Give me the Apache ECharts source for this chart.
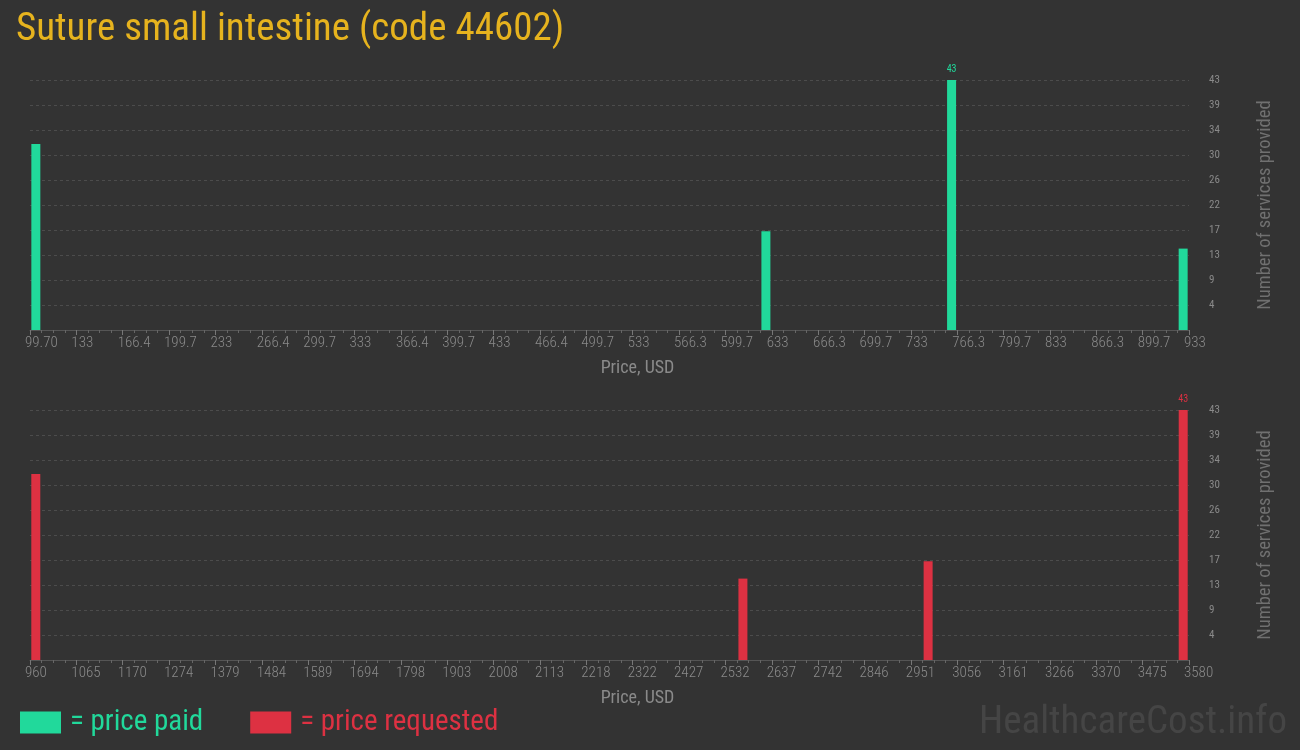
<!DOCTYPE html>
<html>
<head>
<meta charset="utf-8">
<style>html,body{margin:0;padding:0;background:#333333;}#chart{width:1300px;height:750px;}</style>
<script src="https://cdn.jsdelivr.net/npm/echarts@6/dist/echarts.min.js"></script>
</head>
<body>
<div id="chart"></div>
<script>
// ---- data ----
const titleText = "Suture small intestine (code 44602)";
const paidTickLabels = ["99.70","133","166.4","199.7","233","266.4","299.7","333","366.4","399.7","433","466.4","499.7","533","566.3","599.7","633","666.3","699.7","733","766.3","799.7","833","866.3","899.7","933"];
const requestedTickLabels = ["960","1065","1170","1274","1379","1484","1589","1694","1798","1903","2008","2113","2218","2322","2427","2532","2637","2742","2846","2951","3056","3161","3266","3370","3475","3580"];
const paidPrices = [103.9, 628.8, 762.3, 928.8];
const paidCounts = [32, 17, 43, 14];
const requestedPrices = [973.1, 2571.6, 2990.3, 3566.9];
const requestedCounts = [32, 14, 17, 43];
const countMax = 43;

// ---- styling ----
const GREEN = '#21d99b', RED = '#dd3142', BG = '#333333';
const FONT = '"Roboto Condensed", "Roboto", sans-serif';
const nIntervals = paidTickLabels.length - 1;

function axisFrom(labels) {
  const lo = parseFloat(labels[0]), hi = parseFloat(labels[labels.length - 1]);
  return { lo, step: (hi - lo) / (labels.length - 1) };
}
const paidAxis = axisFrom(paidTickLabels), reqAxis = axisFrom(requestedTickLabels);

function seriesData(prices, counts, ax, color) {
  const mx = Math.max.apply(null, counts);
  return prices.map((p, i) => {
    const item = { value: [(p - ax.lo) / ax.step, counts[i]] };
    if (counts[i] === mx) item.label = { show: true, position: 'top', color: color, fontSize: 10, fontFamily: FONT, distance: 6, formatter: String(counts[i]) };
    return item;
  });
}

function xAxis(gridIndex, labels) {
  return {
    type: 'value', gridIndex, min: 0, max: nIntervals, interval: 1,
    name: 'Price, USD', nameLocation: 'middle', nameGap: 29,
    nameTextStyle: { color: '#8a8a8a', fontSize: 18, fontFamily: FONT, padding: [0, 0, 0, 56] },
    axisLine: { show: true, lineStyle: { color: '#555555', width: 1 } },
    axisTick: { show: true, length: 5, lineStyle: { color: '#777777' } },
    minorTick: { show: true, splitNumber: 4, length: 3, lineStyle: { color: '#666666' } },
    splitLine: { show: false },
    axisLabel: { color: '#8a8a8a', fontSize: 15, fontFamily: FONT, fontWeight: 300, margin: 6,
      align: 'left', padding: [0, 0, 0, -5],
      formatter: v => labels[Math.round(v)] }
  };
}
function yAxis(gridIndex) {
  return {
    type: 'value', gridIndex, position: 'right', min: 0, max: countMax, interval: countMax / 10,
    name: 'Number of services provided', nameLocation: 'middle', nameGap: 67, nameRotate: 90,
    nameTextStyle: { color: '#707070', fontSize: 18.5, fontFamily: FONT },
    axisLine: { show: false },
    axisTick: { show: true, inside: false, length: 16, lineStyle: { color: '#4c4c4c', type: [3, 3] } },
    splitLine: { show: true, lineStyle: { color: '#4c4c4c', type: [3, 3] } },
    axisLabel: { color: '#8a8a8a', fontSize: 11, fontFamily: FONT, margin: 20, showMinLabel: false,
      formatter: v => String(Math.round(v)) }
  };
}

const chart = echarts.init(document.getElementById('chart'), null, { renderer: 'canvas' });
chart.setOption({
  backgroundColor: BG,
  animation: false,
  title: { text: titleText, left: 11, top: 6, textStyle: { color: '#e6b31e', fontSize: 39, fontWeight: 'normal', fontFamily: FONT } },
  legend: {
    left: 15, top: 703, itemWidth: 41, itemHeight: 22, itemGap: 47, icon: 'rect',
    selectedMode: false,
    formatter: name => '= ' + name,
    data: [
      { name: 'price paid', textStyle: { color: GREEN } },
      { name: 'price requested', textStyle: { color: RED } }
    ],
    textStyle: { fontSize: 29, fontFamily: FONT, padding: [0, 0, 0, 4] }
  },
  graphic: [{
    type: 'text', right: 13, bottom: 7,
    style: { text: 'HealthcareCost.info', fill: '#454545', font: '39px "Roboto Condensed", Roboto, sans-serif' }
  }],
  grid: [
    { left: 30, right: 111, top: 80, height: 250 },
    { left: 30, right: 111, top: 410, height: 250 }
  ],
  xAxis: [xAxis(0, paidTickLabels), xAxis(1, requestedTickLabels)],
  yAxis: [yAxis(0), yAxis(1)],
  series: [
    { name: 'price paid', type: 'bar', xAxisIndex: 0, yAxisIndex: 0, barWidth: 9, itemStyle: { color: GREEN },
      data: seriesData(paidPrices, paidCounts, paidAxis, GREEN) },
    { name: 'price requested', type: 'bar', xAxisIndex: 1, yAxisIndex: 1, barWidth: 9, itemStyle: { color: RED },
      data: seriesData(requestedPrices, requestedCounts, reqAxis, RED) }
  ]
});
</script>
</body>
</html>
